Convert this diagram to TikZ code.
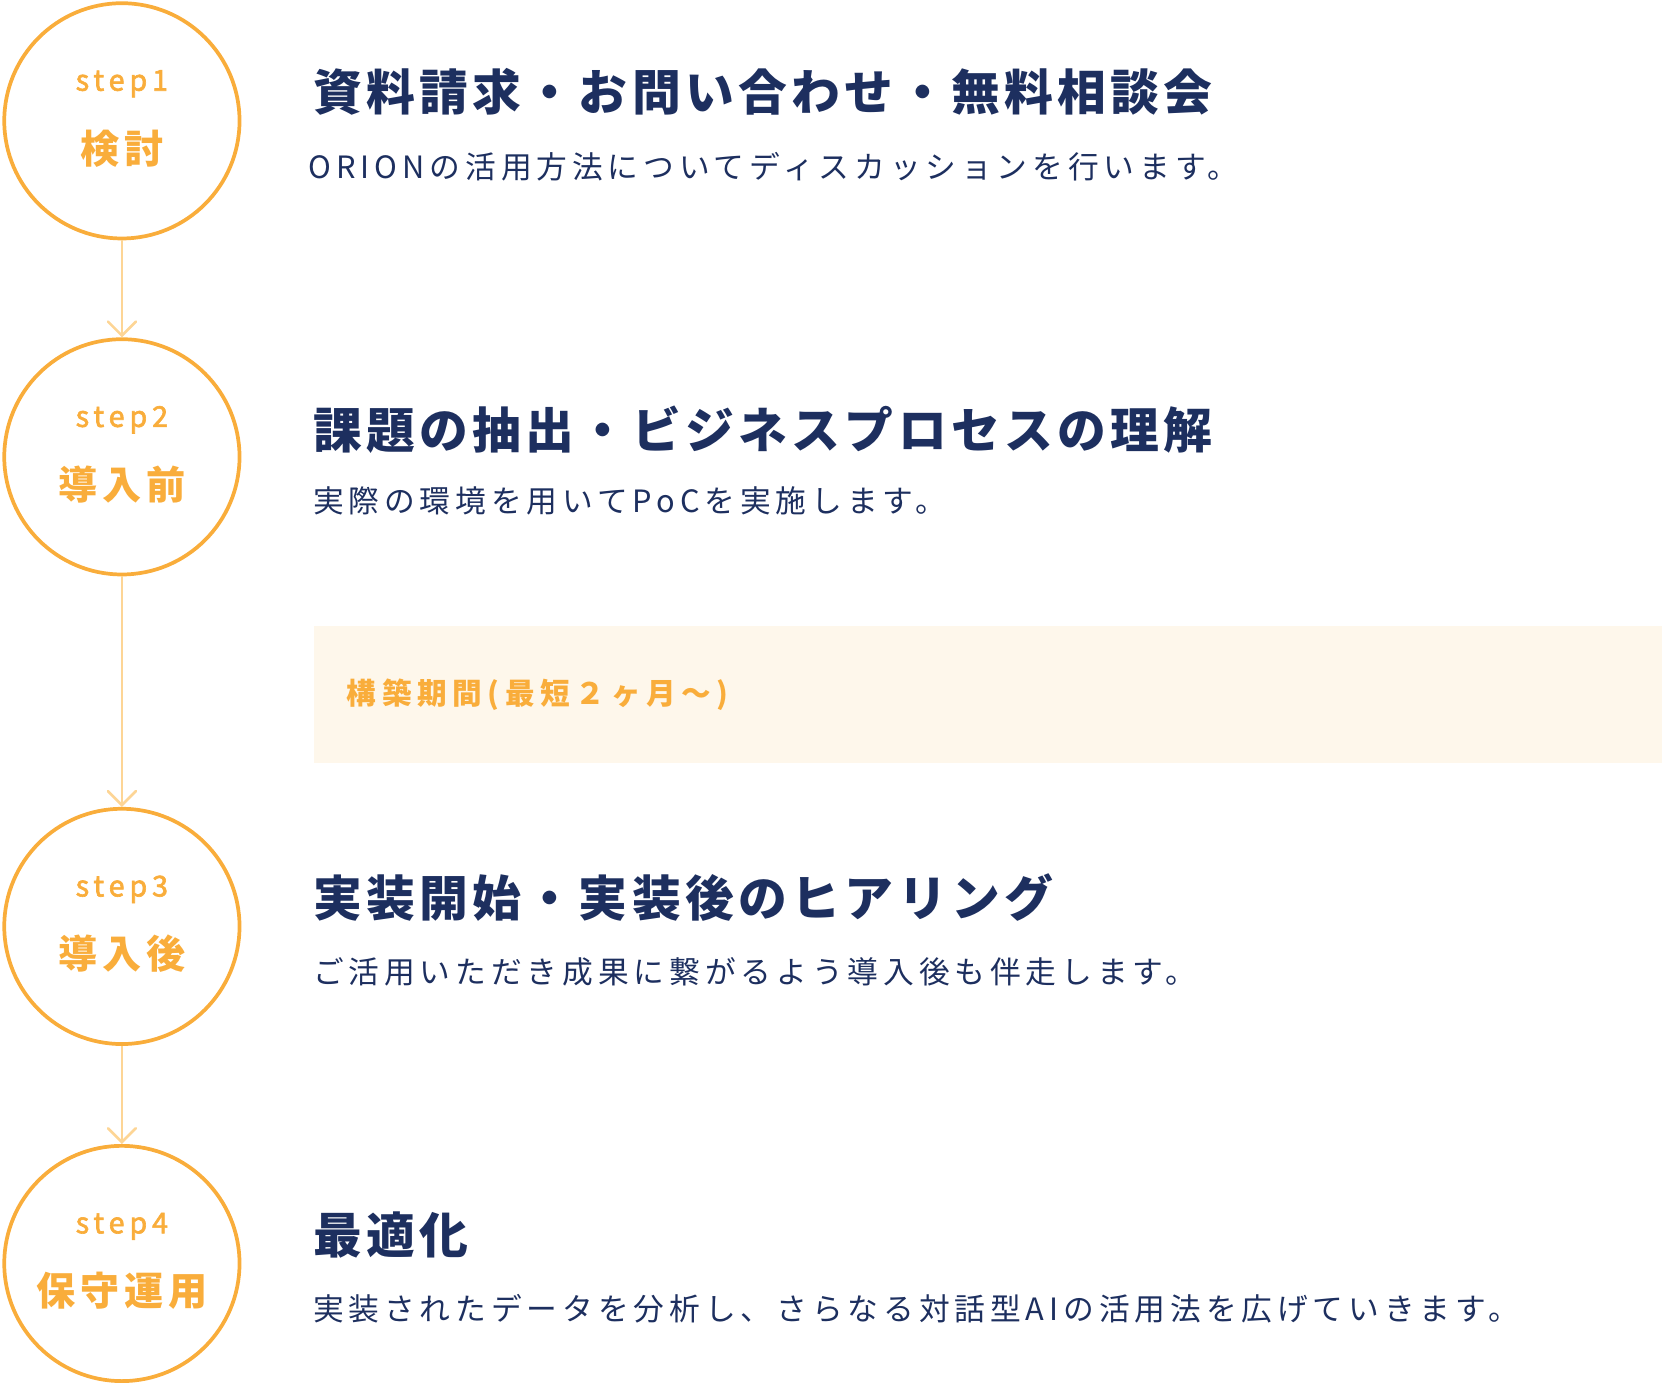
\documentclass[tikz,border=0pt]{standalone}
\usepackage{fontspec}
\setmainfont{Noto Sans CJK JP}
\newfontfamily\headfont{Noto Sans CJK JP}[LetterSpace=9]
\newfontfamily\descfont{Noto Sans CJK JP}[LetterSpace=16]
\newfontfamily\tagfont{Noto Sans CJK JP}[LetterSpace=17, FakeBold=2.2]
\newfontfamily\namefont{Noto Sans CJK JP}[LetterSpace=12]
\newfontfamily\periodfont{Noto Sans CJK JP}[LetterSpace=19]
\usepackage{tikz}
\usetikzlibrary{positioning}
\usetikzlibrary{arrows.meta, calc}
\usepackage{xcolor}
\definecolor{myorange}{HTML}{F9AD3B}
\definecolor{mylightorange}{HTML}{FDD595}
\definecolor{mynavy}{HTML}{1D2F5F}
\definecolor{mycream}{HTML}{FEF7EB}

\begin{document}
\begin{tikzpicture}[
            x=0.02cm, y=-0.02cm,
            stepcircle/.style={
                circle,
                draw=myorange,
                line width=2pt,
                minimum size=4.44cm,
                inner sep=0pt
            },
            steptag/.style={text=myorange, font=\tagfont\fontsize{15.4}{18}\selectfont, inner sep=0pt},
            stepname/.style={text=myorange, font=\namefont\bfseries\fontsize{21}{25}\selectfont, inner sep=0pt},
            heading/.style={anchor=west, text=mynavy, font=\headfont\bfseries\fontsize{26.2}{30}\selectfont, inner sep=0pt},
            desc/.style={anchor=west, text=mynavy, font=\descfont\fontsize{16.5}{20}\selectfont, inner sep=0pt},
            period/.style={
                rectangle,
                anchor=west,
                fill=mycream,
                text=myorange,
                font=\periodfont\bfseries\fontsize{15.9}{19}\selectfont,
                text width=24.2cm,
                inner xsep=0.62cm,
                minimum height=2.58cm,
                align=left
            },
            flow/.style={draw=mylightorange, line width=1.4pt, -{Straight Barb[length=7.5pt, width=15pt, line cap=round]}}
        ]

            \useasboundingbox (0,0) rectangle (1568,1306);

            % Nodes
            \node[stepcircle] (s1) at (115,114) {};
            \node[stepcircle] (s2) at (115,431) {};
            \node[stepcircle] (s3) at (115,874) {};
            \node[stepcircle] (s4) at (115,1192) {};

            \node[steptag] (tag1) at ($(s1)+(0,-35)$) {step1};
            \node[stepname] (name1) at ($(s1)+(0,26)$) {検討};
            \node[steptag] (tag2) at ($(s2)+(0,-35)$) {step2};
            \node[stepname] (name2) at ($(s2)+(0,26)$) {導入前};
            \node[steptag] (tag3) at ($(s3)+(0,-35)$) {step3};
            \node[stepname] (name3) at ($(s3)+(0,26)$) {導入後};
            \node[steptag] (tag4) at ($(s4)+(0,-35)$) {step4};
            \node[stepname] (name4) at ($(s4)+(0,26)$) {保守運用};

            \node[heading] (head1) at (295,87) {資料請求・お問い合わせ・無料相談会};
            \node[desc] (desc1) at (291,157) {ORIONの活用方法についてディスカッションを行います。};
            \node[heading] (head2) at (295,405) {課題の抽出・ビジネスプロセスの理解};
            \node[desc] (desc2) at (295,473) {実際の環境を用いてPoCを実施します。};
            \node[period] (build) at (296,655.5) {構築期間(最短２ヶ月〜)};
            \node[heading] (head3) at (295,847) {実装開始・実装後のヒアリング};
            \node[desc] (desc3) at (295,917) {ご活用いただき成果に繋がるよう導入後も伴走します。};
            \node[heading] (head4) at (295,1165) {最適化};
            \node[desc] (desc4) at (295,1235) {実装されたデータを分析し、さらなる対話型AIの活用法を広げていきます。};

            % Arrows
            \draw[flow] (s1.south) -- (s2.north);
            \draw[flow] (s2.south) -- (s3.north);
            \draw[flow] (s3.south) -- (s4.north);
        \end{tikzpicture}
\end{document}
